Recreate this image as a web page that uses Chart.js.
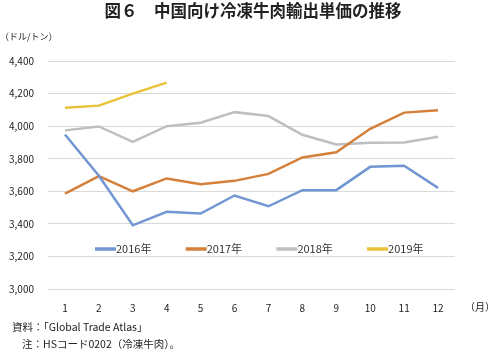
<!DOCTYPE html>
<html>
<head>
<meta charset="utf-8">
<script src="https://cdn.jsdelivr.net/npm/chart.js@4.4.0/dist/chart.umd.min.js"></script>
<style>
  body { margin: 0; background: #fff; font-family: "Noto Sans CJK JP", sans-serif; }
  #box { position: relative; width: 490px; height: 353px; overflow: hidden; }
  #box canvas { position: absolute; left: 0; top: 0; }
  .t { position: absolute; white-space: nowrap; color: #222; line-height: 1; }
</style>
</head>
<body>
<div id="box">
  <canvas id="chart" width="490" height="353"></canvas>
  <div class="t" style="left:0;width:506px;text-align:center;top:2px;font-size:16.5px;font-weight:bold;">図６　中国向け冷凍牛肉輸出単価の推移</div>
  <div class="t" style="left:0;top:32px;font-size:9px;">（ドル/トン）</div>
  <div class="t" style="left:465px;top:302px;font-size:10px;">（月）</div>
  <div class="t" style="left:12px;top:322px;font-size:10.5px;">資料：「Global Trade Atlas」</div>
  <div class="t" style="left:22px;top:339px;font-size:10.5px;">注：HSコード0202（冷凍牛肉）。</div>
</div>
<script>
const months = ["1", "2", "3", "4", "5", "6", "7", "8", "9", "10", "11", "12"];
const yearLabels = ["2016年", "2017年", "2018年", "2019年"];
const colors = ["#7196d2", "#d5803a", "#bfbfbf", "#e8c33a"];

const price2016 = [3949, 3695, 3391, 3474, 3463, 3574, 3508, 3607, 3607, 3750, 3757, 3621];
const price2017 = [3586, 3693, 3600, 3679, 3644, 3664, 3707, 3808, 3840, 3984, 4083, 4097];
const price2018 = [3974, 3998, 3904, 4000, 4021, 4086, 4062, 3947, 3888, 3898, 3900, 3935];
const price2019 = [4113, 4126, 4200, 4267];

const yTicks = [3000, 3200, 3400, 3600, 3800, 4000, 4200, 4400];

const series = [price2016, price2017, price2018, price2019];

// legend sits inside the plot, between the 3,400 and 3,200 lines
const insideLegend = {
    id: "insideLegend",
    afterDraw(chart) {
        const c = chart.ctx;
        const y = chart.chartArea.bottom - 40;
        c.save();
        c.font = "11px 'Noto Sans CJK JP'";
        c.textBaseline = "middle";
        chart.data.datasets.forEach((ds, i) => {
            const x0 = 95 + i * 90.7;
            c.strokeStyle = ds.borderColor;
            c.lineWidth = 3.5;
            c.beginPath();
            c.moveTo(x0, y);
            c.lineTo(x0 + 21, y);
            c.stroke();
            c.fillStyle = "#333";
            c.fillText(ds.label, x0 + 21, y);
        });
        c.restore();
    }
};

new Chart(document.getElementById("chart"), {
    type: "line",
    data: {
        labels: months,
        datasets: series.map((vals, i) => ({
            label: yearLabels[i],
            data: vals,
            borderColor: colors[i],
            backgroundColor: colors[i],
            borderWidth: 2.5,
            pointRadius: 0,
            tension: 0,
            fill: false,
        })),
    },
    options: {
        responsive: false,
        animation: false,
        layout: { padding: { left: 0, top: 61, right: 35, bottom: 40 } },
        plugins: {
            legend: { display: false },
            tooltip: { enabled: false },
        },
        scales: {
            x: {
                offset: true,
                grid: { display: false },
                border: { display: false },
                ticks: { color: "#222", font: { size: 10, family: "'Noto Sans CJK JP'" }, padding: 5, maxRotation: 0 },
                afterFit: function(scale) { scale.height = 24; },
            },
            y: {
                min: 3000,
                max: 4400,
                afterBuildTicks: function(scale) { scale.ticks = yTicks.map(v => ({ value: v })); },
                grid: { color: "#d9d9d9", lineWidth: 1, drawTicks: false },
                border: { display: false },
                ticks: {
                    color: "#222",
                    font: { size: 10, family: "'Noto Sans CJK JP'" },
                    padding: 14,
                    callback: function(value) { return value.toLocaleString("en-US"); }
                },
                afterFit: function(scale) { scale.width = 48; },
            },
        },
    },
    plugins: [insideLegend],
});
</script>
</body>
</html>
